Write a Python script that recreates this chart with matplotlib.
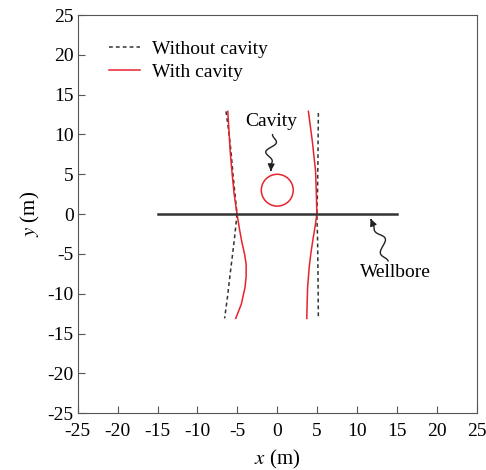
import numpy as np
import matplotlib
matplotlib.use('Agg')
from matplotlib import pyplot as plt
from matplotlib.patches import Circle, FancyArrowPatch
from matplotlib.path import Path

plt.rcParams['font.family'] = ['Liberation Serif', 'DejaVu Serif']
plt.rcParams['mathtext.fontset'] = 'stix'
plt.rcParams['axes.unicode_minus'] = False

# fracture traces (x, y)
left_no_y = [12.9, 10.5, 7.9, 5.0, 2.5, 0, -3.4, -7.5, -10.5, -13.1]
left_no_x = [-6.42, -6.1, -5.8, -5.55, -5.3, -5.04, -5.4, -5.9, -6.25, -6.6]
right_no_y = [12.7, 7, 3, 0, -3, -7, -13.1]
right_no_x = [5.15, 5.1, 5.05, 4.96, 5.05, 5.1, 5.15]

left_cav_y = [12.9, 10.5, 7.9, 5.0, 2.5, 0, -1.8, -3.4, -5.0, -6.3, -7.8, -9.2, -11.3, -13.1]
left_cav_x = [-6.2, -6.05, -5.9, -5.65, -5.4, -5.04, -4.75, -4.46, -4.1, -3.9, -3.9, -4.04, -4.5, -5.2]
right_cav_y = [12.9, 9.1, 5.4, 2.5, 0, -1.5, -3.0, -5.0, -6.7, -9.2, -13.1]
right_cav_x = [3.9, 4.4, 4.8, 4.9, 4.96, 4.75, 4.5, 4.2, 4.0, 3.8, 3.7]

cavity_center = (0, 3)
cavity_r = 2
wellbore_x = [-15, 15]
wellbore_y = [0, 0]


def squiggle(ax, start, end, amp=0.8, waves=1.5):
    s = np.array(start, float)
    e = np.array(end, float)
    d = e - s
    n = np.array([-d[1], d[0]]) / np.hypot(*d)
    t = np.linspace(0, 1, 60)
    env = np.sin(np.pi * np.clip(t / 0.8, 0, 1))
    off = amp * np.sin(2 * np.pi * waves * t) * env * (t < 0.8)
    pts = s + np.outer(t, d) + np.outer(off, n)
    codes = [Path.MOVETO] + [Path.LINETO] * (len(pts) - 1)
    arr = FancyArrowPatch(path=Path(pts, codes), arrowstyle='-|>',
                          mutation_scale=10, color='#222', lw=1.0)
    ax.add_patch(arr)


fig = plt.figure(figsize=(4.86, 4.70), dpi=100)
ax = fig.add_axes([0.160, 0.121, 0.821, 0.847])

ax.plot(left_no_x, left_no_y, ls=(0, (2.5, 2)), color='#333', lw=1.1, label='Without cavity')
ax.plot(right_no_x, right_no_y, ls=(0, (2.5, 2)), color='#333', lw=1.1)
ax.plot(left_cav_x, left_cav_y, color='#e8232b', lw=1.1, label='With cavity')
ax.plot(right_cav_x, right_cav_y, color='#e8232b', lw=1.1)
ax.add_patch(Circle(cavity_center, cavity_r, fill=False, ec='#e8232b', lw=1.1))
ax.plot(wellbore_x, wellbore_y, color='#333', lw=1.8)

ax.text(-0.7, 11.6, 'Cavity', fontsize=14, ha='center', va='center')
squiggle(ax, (-0.6, 10.0), (-0.8, 5.4))
ax.text(14.8, -7.3, 'Wellbore', fontsize=14, ha='center', va='center')
squiggle(ax, (13.9, -5.9), (11.7, -0.6))

ax.set_xlim(-25, 25)
ax.set_ylim(-25, 25)
ax.set_xticks(np.arange(-25, 26, 5))
ax.set_yticks(np.arange(-25, 26, 5))
ax.tick_params(direction='in', length=5, labelsize=14, color='#555')
ax.tick_params(axis='x', pad=7)
ax.tick_params(axis='y', pad=3)
for sp in ax.spines.values():
    sp.set_color('#555')
ax.set_xlabel(r'$x$ (m)', fontsize=15, labelpad=6)
ax.set_ylabel(r'$y$ (m)', fontsize=15, labelpad=4)

ax.legend(loc='upper left', frameon=False, fontsize=14, handlelength=1.6,
          bbox_to_anchor=(0.045, 0.97), borderaxespad=0.3, labelspacing=0.25,
          handletextpad=0.6)

fig.savefig('out.png', dpi=100)
